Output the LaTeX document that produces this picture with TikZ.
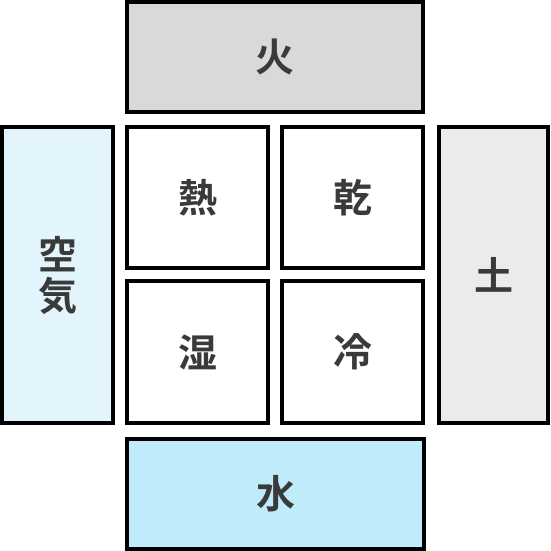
\documentclass[tikz,border=0pt]{standalone}
\usepackage{fontspec}
\newfontfamily\cjk{Noto Sans CJK JP}[BoldFont={Noto Sans CJK JP Bold}]
\definecolor{txt}{HTML}{3A3A3A}
\definecolor{firefill}{HTML}{D9D9D9}
\definecolor{airfill}{HTML}{E2F5FD}
\definecolor{earthfill}{HTML}{EBEBEB}
\definecolor{waterfill}{HTML}{C0EBFB}
\tikzset{
  box/.style={draw=black, line width=4pt},
  lbl/.style={text=txt, font=\cjk\bfseries\fontsize{39}{41}\selectfont, inner sep=0pt},
  vlbl/.style={text=txt, font=\cjk\bfseries\fontsize{39}{41}\selectfont, inner sep=0pt, align=center},
}
\begin{document}
\begin{tikzpicture}[x=1pt,y=-1pt]
\useasboundingbox (0,0) rectangle (550,551);
% outer element boxes
\draw[box, fill=firefill] (127,2) rectangle (423,112);
\draw[box, fill=airfill] (2,127) rectangle (113,423);
\draw[box, fill=earthfill] (439,127) rectangle (548,423);
\draw[box, fill=waterfill] (127,439) rectangle (424,549);
% quality squares
\draw[box, fill=white] (127,127) rectangle (268,268);
\draw[box, fill=white] (282,127) rectangle (423,268);
\draw[box, fill=white] (127,281) rectangle (268,423);
\draw[box, fill=white] (282,281) rectangle (423,423);
% labels
\node[lbl] (fire) at (275,57) {火};
\node[vlbl] (air) at (57.5,275) {空\\気};
\node[lbl] (earth) at (493.5,275) {土};
\node[lbl] (water) at (275.5,494) {水};
\node[lbl] (hot) at (197.5,197.5) {熱};
\node[lbl] (dry) at (352.5,197.5) {乾};
\node[lbl] (wet) at (197.5,352) {湿};
\node[lbl] (cold) at (352.5,352) {冷};
\end{tikzpicture}
\end{document}
